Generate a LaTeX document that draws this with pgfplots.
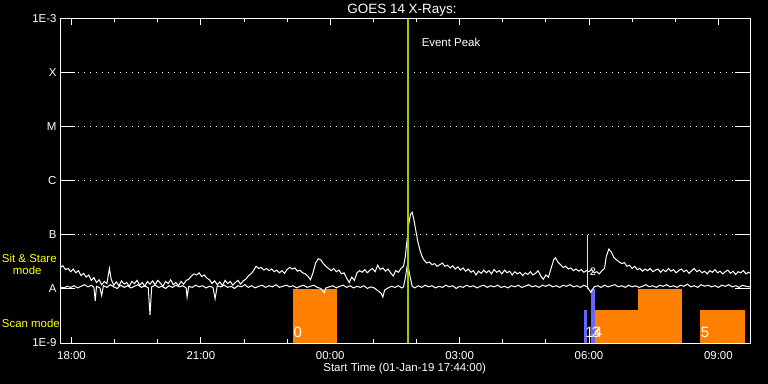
\documentclass[border=0pt]{standalone}
\usepackage{pgfplots}
\pgfplotsset{compat=1.18}
\usepackage{fontspec}
\setmainfont{Liberation Sans}
\definecolor{scanorange}{RGB}{255,128,0}
\definecolor{scanblue}{RGB}{102,102,255}
\definecolor{evgreen}{RGB}{153,204,0}
\definecolor{ylab}{RGB}{255,255,0}
\newcommand{\lf}{\fontsize{11.5}{13}\selectfont}
\begin{document}
\begin{tikzpicture}
\fill[black] (0,0) rectangle (768bp,384bp);
% axis with x ticks and dotted class lines
\begin{axis}[
  at={(60bp,41bp)}, anchor=south west,
  width=690bp, height=324bp, scale only axis,
  xmin=17.7333, xmax=33.7333, ymin=-9, ymax=-3,
  axis line style={white, line width=1bp},
  xtick={18,21,24,27,30,33},
  xticklabels={18:00,21:00,00:00,03:00,06:00,09:00},
  minor xtick={19,20,22,23,25,26,28,29,31,32},
  major tick length=6bp, minor tick length=3.5bp,
  tick style={white, line width=1bp},
  ytick={-7,-6,-5,-4}, yticklabels={},
  ymajorgrids,
  grid style={white, line width=1bp, dash pattern=on 1bp off 5bp},
  xticklabel style={white, font=\lf, anchor=base, yshift=-16bp},
]
\end{axis}
% data axis
\begin{axis}[
  at={(60bp,41bp)}, anchor=south west,
  width=690bp, height=324bp, scale only axis,
  xmin=17.7333, xmax=33.7333, ymin=-9, ymax=-3,
  axis line style={white, line width=1bp},
  xtick=\empty,
  ytick={-9,-8,-7,-6,-5,-4,-3},
  yticklabels={1E-9,A\hspace{9.5bp},B\hspace{9.5bp},C\hspace{9.5bp},M\hspace{9.5bp},X\hspace{9.5bp},1E-3},
  major tick length=15bp,
  tick style={white, line width=1bp},
  yticklabel style={white, font=\lf},
  clip=false,
]
% scan-mode rasters
\addplot[fill=scanorange, draw=none] coordinates {(23.136,-9) (23.136,-8) (24.157,-8) (24.157,-9)};
\addplot[fill=scanblue, draw=none] coordinates {(29.884,-9) (29.884,-8.389) (29.946,-8.389) (29.946,-9)};
\addplot[fill=scanblue, draw=none] coordinates {(30.046,-9) (30.046,-8) (30.130,-8) (30.130,-9)};
\addplot[fill=scanorange, draw=none] coordinates {(30.130,-9) (30.130,-8.389) (31.137,-8.389) (31.137,-9)};
\addplot[fill=scanorange, draw=none] coordinates {(31.137,-9) (31.137,-8) (32.157,-8) (32.157,-9)};
\addplot[fill=scanorange, draw=none] coordinates {(32.574,-9) (32.574,-8.389) (33.617,-8.389) (33.617,-9)};
% 1-8 A channel (log10 flux)
\addplot[white, line width=1bp] table {
17.74 -7.60
17.80 -7.57
17.86 -7.64
17.92 -7.62
17.98 -7.68
18.04 -7.63
18.10 -7.70
18.16 -7.66
18.22 -7.75
18.28 -7.71
18.34 -7.78
18.40 -7.74
18.46 -7.84
18.52 -7.79
18.58 -7.88
18.64 -7.83
18.70 -7.92
18.76 -7.86
18.82 -7.90
18.88 -7.62
18.92 -7.82
18.98 -7.93
19.04 -7.87
19.10 -7.94
19.16 -7.85
19.22 -7.91
19.28 -7.88
19.34 -7.95
19.40 -7.86
19.46 -7.90
19.52 -7.84
19.58 -7.93
19.64 -7.88
19.70 -7.95
19.76 -7.86
19.82 -7.91
19.88 -7.85
19.94 -7.92
20.00 -7.84
20.06 -7.89
20.12 -7.95
20.18 -7.86
20.24 -7.90
20.30 -7.83
20.36 -7.92
20.42 -7.88
20.48 -7.94
20.54 -7.86
20.60 -7.91
20.66 -7.84
20.72 -7.82
20.78 -7.76
20.84 -7.72
20.90 -7.74
20.96 -7.70
21.02 -7.77
21.08 -7.74
21.14 -7.80
21.20 -7.83
21.26 -7.90
21.32 -7.85
21.38 -7.92
21.44 -7.87
21.50 -7.94
21.56 -7.84
21.62 -7.90
21.68 -7.86
21.74 -7.93
21.80 -7.88
21.86 -7.84
21.92 -7.91
21.98 -7.85
22.04 -7.82
22.10 -7.76
22.16 -7.72
22.22 -7.66
22.28 -7.58
22.34 -7.62
22.40 -7.60
22.46 -7.65
22.52 -7.62
22.58 -7.66
22.64 -7.63
22.70 -7.68
22.76 -7.65
22.82 -7.70
22.88 -7.66
22.94 -7.71
23.00 -7.64
23.06 -7.60
23.12 -7.63
23.18 -7.61
23.24 -7.67
23.30 -7.65
23.36 -7.70
23.42 -7.72
23.48 -7.76
23.54 -7.83
23.60 -7.70
23.66 -7.52
23.72 -7.44
23.78 -7.46
23.84 -7.53
23.90 -7.58
23.96 -7.62
24.02 -7.66
24.08 -7.62
24.14 -7.68
24.20 -7.65
24.26 -7.72
24.32 -7.70
24.38 -7.80
24.44 -7.88
24.50 -7.78
24.56 -7.84
24.62 -7.70
24.68 -7.66
24.74 -7.69
24.80 -7.64
24.86 -7.70
24.92 -7.65
24.98 -7.62
25.04 -7.68
25.10 -7.56
25.16 -7.64
25.22 -7.61
25.28 -7.67
25.34 -7.63
25.40 -7.70
25.46 -7.76
25.52 -7.66
25.58 -7.69
25.64 -7.62
25.70 -7.58
25.74 -7.40
25.78 -7.10
25.82 -6.80
25.86 -6.62
25.90 -6.58
25.94 -6.72
25.98 -6.90
26.03 -7.12
26.08 -7.28
26.13 -7.40
26.18 -7.47
26.24 -7.52
26.30 -7.50
26.36 -7.55
26.42 -7.53
26.48 -7.58
26.54 -7.55
26.60 -7.52
26.66 -7.58
26.72 -7.56
26.78 -7.61
26.84 -7.57
26.90 -7.63
26.96 -7.59
27.02 -7.65
27.08 -7.61
27.14 -7.67
27.20 -7.63
27.26 -7.69
27.32 -7.66
27.38 -7.74
27.44 -7.67
27.50 -7.71
27.56 -7.65
27.62 -7.70
27.68 -7.66
27.74 -7.72
27.80 -7.64
27.86 -7.69
27.92 -7.66
27.98 -7.72
28.04 -7.65
28.10 -7.70
28.16 -7.67
28.22 -7.74
28.28 -7.68
28.34 -7.72
28.40 -7.69
28.46 -7.75
28.52 -7.70
28.58 -7.73
28.64 -7.68
28.70 -7.74
28.76 -7.71
28.82 -7.66
28.88 -7.76
28.94 -7.82
29.00 -7.74
29.06 -7.78
29.12 -7.62
29.18 -7.46
29.22 -7.42
29.28 -7.50
29.34 -7.55
29.40 -7.60
29.46 -7.58
29.52 -7.63
29.58 -7.61
29.64 -7.66
29.70 -7.63
29.76 -7.67
29.82 -7.64
29.88 -7.69
29.94 -7.66
30.00 -7.68
30.06 -7.64
30.12 -7.70
30.18 -7.68
30.24 -7.72
30.30 -7.66
30.36 -7.62
30.40 -7.40
30.46 -7.26
30.52 -7.32
30.58 -7.42
30.64 -7.46
30.70 -7.50
30.76 -7.53
30.82 -7.51
30.88 -7.58
30.94 -7.56
31.00 -7.62
31.06 -7.58
31.12 -7.64
31.18 -7.62
31.24 -7.67
31.30 -7.63
31.36 -7.66
31.42 -7.62
31.48 -7.68
31.54 -7.65
31.60 -7.63
31.66 -7.69
31.72 -7.64
31.78 -7.68
31.84 -7.62
31.90 -7.67
31.96 -7.64
32.02 -7.70
32.08 -7.66
32.14 -7.63
32.20 -7.68
32.26 -7.65
32.32 -7.71
32.38 -7.66
32.44 -7.62
32.50 -7.68
32.56 -7.65
32.62 -7.70
32.68 -7.67
32.74 -7.72
32.80 -7.66
32.86 -7.69
32.92 -7.64
32.98 -7.70
33.04 -7.67
33.10 -7.72
33.16 -7.68
33.22 -7.65
33.28 -7.71
33.34 -7.67
33.40 -7.73
33.46 -7.68
33.52 -7.70
33.58 -7.66
33.64 -7.72
33.70 -7.69
33.73 -7.71
};
% 0.5-4 A channel (log10 flux)
\addplot[white, line width=1bp] table {
17.74 -7.96
17.82 -7.98
17.90 -7.95
17.98 -7.97
18.06 -7.94
18.14 -7.98
18.22 -7.95
18.30 -7.92
18.38 -7.96
18.46 -7.93
18.52 -7.97
18.55 -8.22
18.58 -7.95
18.66 -7.98
18.70 -8.12
18.74 -7.94
18.82 -7.97
18.90 -7.92
18.98 -7.96
19.06 -7.99
19.14 -7.93
19.22 -7.97
19.30 -7.94
19.38 -7.98
19.46 -7.95
19.54 -7.92
19.62 -7.97
19.70 -7.94
19.78 -7.98
19.82 -8.48
19.86 -7.96
19.94 -7.93
20.02 -7.97
20.10 -7.95
20.18 -7.99
20.26 -7.94
20.34 -7.97
20.42 -7.93
20.50 -7.96
20.58 -7.94
20.66 -7.98
20.68 -8.15
20.72 -7.95
20.80 -7.97
20.88 -7.93
20.96 -7.96
21.04 -7.94
21.12 -7.98
21.20 -7.95
21.28 -7.97
21.33 -8.18
21.38 -7.94
21.46 -7.96
21.54 -7.93
21.62 -7.97
21.70 -7.95
21.78 -7.99
21.86 -7.94
21.94 -7.96
22.02 -7.92
22.10 -7.97
22.18 -7.94
22.26 -7.98
22.34 -7.95
22.42 -7.93
22.50 -7.97
22.58 -7.94
22.66 -7.96
22.74 -7.92
22.82 -7.97
22.90 -7.95
22.98 -7.93
23.06 -7.96
23.14 -7.94
23.22 -7.98
23.30 -7.95
23.38 -7.93
23.46 -7.97
23.54 -7.95
23.62 -7.93
23.70 -7.97
23.78 -7.99
23.86 -8.07
23.90 -7.98
23.98 -7.96
24.06 -7.94
24.14 -7.98
24.22 -7.95
24.30 -7.93
24.38 -7.97
24.46 -7.94
24.54 -7.98
24.62 -7.95
24.70 -7.97
24.78 -7.94
24.86 -7.99
24.94 -7.96
25.02 -7.98
25.10 -8.03
25.18 -8.08
25.22 -8.15
25.26 -8.02
25.34 -7.98
25.42 -7.95
25.50 -7.97
25.58 -7.94
25.66 -7.98
25.70 -7.96
25.74 -7.80
25.78 -7.59
25.82 -7.64
25.86 -7.80
25.90 -7.95
25.96 -7.98
26.04 -7.94
26.12 -7.97
26.20 -7.93
26.28 -7.96
26.36 -7.94
26.44 -7.98
26.52 -7.95
26.60 -7.97
26.68 -7.93
26.76 -7.96
26.84 -7.94
26.92 -7.99
27.00 -7.95
27.08 -7.97
27.16 -7.93
27.24 -7.96
27.32 -7.94
27.40 -7.98
27.48 -7.95
27.56 -7.93
27.64 -7.97
27.72 -7.94
27.80 -7.96
27.88 -7.93
27.96 -7.97
28.04 -7.95
28.12 -7.98
28.20 -7.94
28.28 -7.96
28.36 -7.93
28.44 -7.97
28.52 -7.95
28.60 -7.92
28.68 -7.96
28.76 -7.94
28.84 -7.97
28.92 -7.93
29.00 -7.95
29.08 -7.92
29.16 -7.96
29.24 -7.94
29.32 -7.97
29.40 -7.93
29.48 -7.95
29.56 -7.92
29.64 -7.96
29.72 -7.94
29.80 -7.97
29.88 -7.93
29.96 -7.96
30.04 -8.06
30.12 -7.96
30.20 -7.94
30.28 -7.97
30.36 -7.93
30.44 -7.96
30.52 -7.94
30.60 -7.92
30.68 -7.96
30.76 -7.94
30.84 -7.97
30.92 -7.93
31.00 -7.96
31.08 -7.94
31.16 -7.97
31.24 -7.95
31.32 -7.92
31.40 -7.96
31.48 -7.94
31.56 -7.97
31.64 -7.93
31.72 -7.95
31.80 -7.92
31.88 -7.96
31.96 -7.94
32.04 -7.97
32.12 -7.93
32.20 -7.95
32.28 -7.91
32.36 -7.96
32.44 -7.94
32.52 -7.97
32.60 -7.92
32.68 -7.95
32.76 -7.93
32.84 -7.96
32.92 -7.94
33.00 -7.97
33.08 -7.93
33.16 -7.95
33.24 -7.92
33.32 -7.96
33.40 -7.94
33.48 -7.97
33.56 -7.93
33.64 -7.95
33.73 -7.96
};
% markers
\addplot[ylab, line width=1bp] coordinates {(29.96,-8) (29.96,-7)};
\addplot[evgreen, line width=2bp] coordinates {(25.81,-9) (25.81,-3)};
% raster numbers
\node[white, anchor=base, font=\fontsize{15}{16}\selectfont] at (axis cs:23.245,-8.907) {0};
\node[white, anchor=base, font=\fontsize{15}{16}\selectfont] at (axis cs:30.014,-8.907) {1};
\node[white, anchor=base, font=\fontsize{15}{16}\selectfont] at (axis cs:30.16,-8.907) {3};
\node[white, anchor=base, font=\fontsize{15}{16}\selectfont] at (axis cs:30.21,-8.907) {4};
\node[white, anchor=base, font=\fontsize{15}{16}\selectfont] at (axis cs:32.69,-8.907) {5};
\node[white, anchor=base, font=\fontsize{11}{12}\selectfont] at (axis cs:30.09,-7.741) {2};
\node[white, anchor=base west, font=\lf] at (axis cs:26.04,-3.5185) {Event Peak};
\end{axis}
% titles and annotations
\node[white, anchor=base, font=\fontsize{13.5}{15}\selectfont] at (402bp,370bp) {GOES 14 X-Rays:};
\node[white, anchor=base, font=\lf] at (404.7bp,12.5bp) {Start Time (01-Jan-19 17:44:00)};
\node[ylab, anchor=base west, inner sep=0pt, font=\lf] at (1.7bp,121bp) {Sit \& Stare};
\node[ylab, anchor=base west, inner sep=0pt, font=\lf] at (12.7bp,109bp) {mode};
\node[ylab, anchor=base west, inner sep=0pt, font=\lf] at (1.7bp,56bp) {Scan mode};
\pgfresetboundingbox
\useasboundingbox (0,0) rectangle (768bp,384bp);
\end{tikzpicture}
\end{document}
